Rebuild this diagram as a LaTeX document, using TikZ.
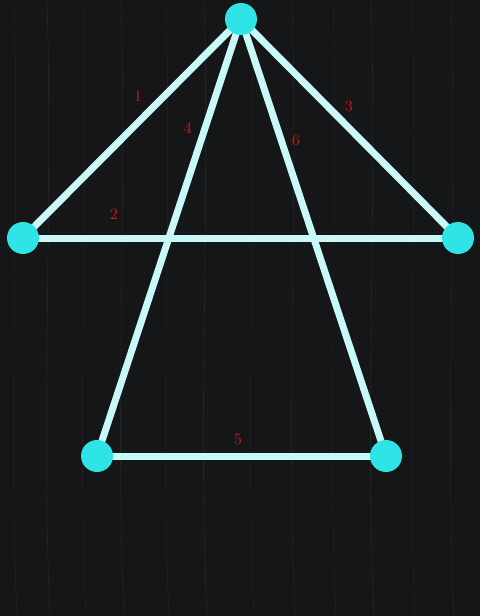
\documentclass[tikz,border=0pt]{standalone}
\definecolor{woodcol}{HTML}{151617}
\definecolor{graincol}{HTML}{2A2C2E}
\definecolor{beamcol}{HTML}{C8F8F8}
\definecolor{knobcol}{HTML}{2EE4E6}
\definecolor{tagcol}{HTML}{D0141E}
\tikzset{
 beam/.style={draw=beamcol,line width=0.14cm},
 knob/.style={circle,fill=knobcol,inner sep=0pt,minimum size=0.64cm},
 tag/.style={text=tagcol,font=\small}
}
\begin{document}
\begin{tikzpicture}[x=0.02cm,y=-0.02cm]
 \fill[woodcol](0,0) rectangle (480,616);
 \useasboundingbox (0,0) rectangle (480,616);
 % grain
 \foreach \gx/\gw in {14/0.3,47/0.5,83/0.3,121/0.4,166/0.3,204/0.5,251/0.3,292/0.4,333/0.3,371/0.5,412/0.3,451/0.4}
  \draw[graincol,line width=\gw pt,opacity=0.6](\gx,0) .. controls (\gx+6,200) and (\gx-6,420) .. (\gx+3,616);
 \coordinate (T) at (241,19);
 \coordinate (L) at (23,238);
 \coordinate (R) at (458,238);
 \coordinate (BL) at (97,456);
 \coordinate (BR) at (386,456);
 \draw[beam](T)--(L);
 \draw[beam](T)--(R);
 \draw[beam](L)--(R);
 \draw[beam](T)--(BL);
 \draw[beam](T)--(BR);
 \draw[beam](BL)--(BR);
 \node[knob] (t) at (T) {};
 \node[knob] (l) at (L) {};
 \node[knob] (r) at (R) {};
 \node[knob] (bl) at (BL) {};
 \node[knob] (br) at (BR) {};
 \node[tag] (n1) at (138,96) {1};
 \node[tag] (n2) at (114,214) {2};
 \node[tag] (n3) at (349,106) {3};
 \node[tag] (n4) at (188,128) {4};
 \node[tag] (n5) at (238,439) {5};
 \node[tag] (n6) at (296,140) {6};
\end{tikzpicture}
\end{document}
